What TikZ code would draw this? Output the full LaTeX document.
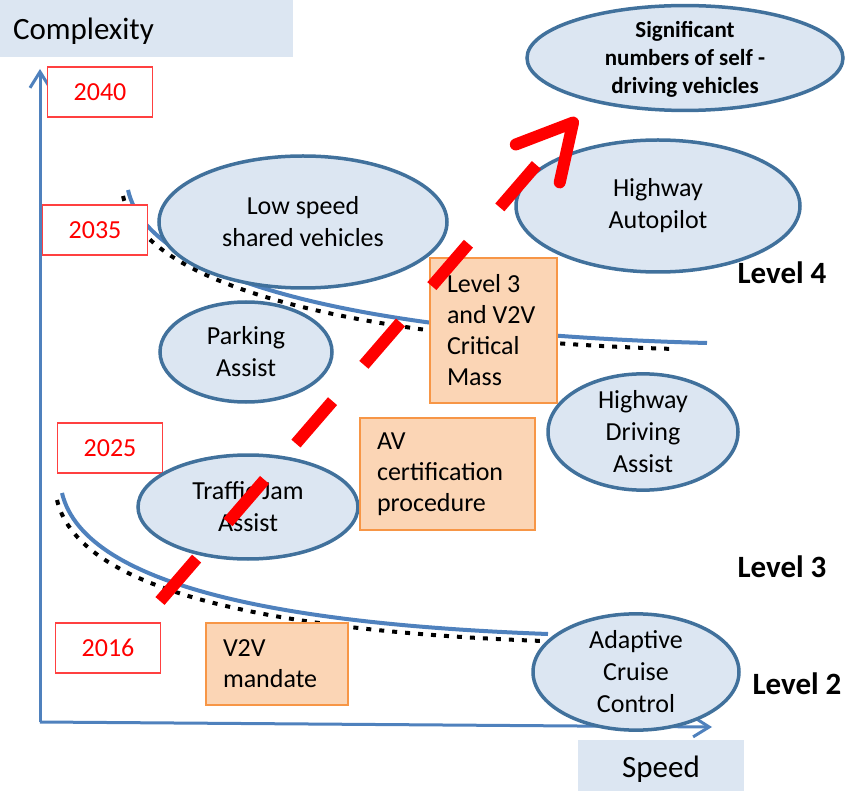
\documentclass[tikz,border=0pt]{standalone}
\usepackage{fontspec}
\setmainfont{Carlito}
\usepackage{tikz}
\usetikzlibrary{shapes.geometric, arrows.meta, positioning, calc}
\definecolor{ellfill}{HTML}{DCE6F2}
\definecolor{ellborder}{HTML}{41719C}
\definecolor{boxfill}{HTML}{FBD5B5}
\definecolor{boxborder}{HTML}{F79646}
\definecolor{axisblue}{HTML}{4F81BD}
\tikzset{
  axis/.style={draw=axisblue, line width=3pt, -{Straight Barb[length=16pt, width=20pt]}},
  axislabel/.style={rectangle, fill=ellfill, inner sep=0pt, text height=23pt, text depth=0pt,
                    font=\fontsize{31}{37}\selectfont},
  feature/.style={ellipse, draw=ellborder, line width=3.5pt, fill=ellfill, inner sep=0pt, align=center,
                  font=\fontsize{26}{32}\selectfont},
  goal/.style={feature, font=\bfseries\fontsize{23}{28}\selectfont},
  milestone/.style={rectangle, draw=boxborder, fill=boxfill, line width=1.5pt, align=flush left,
                    inner xsep=17pt, inner ysep=2pt, font=\fontsize{26}{31}\selectfont},
  yearbox/.style={rectangle, draw=red!75, fill=white, text=red, line width=1.2pt, minimum width=105pt,
                  minimum height=50pt, font=\fontsize{26}{31}\selectfont},
  levellabel/.style={font=\bfseries\fontsize{31}{36}\selectfont},
  boundary/.style={draw=axisblue, line width=4pt},
  boundaryshadow/.style={draw=black, line width=4pt, dash pattern=on 5pt off 8pt},
  trend/.style={draw=red, line width=12pt, dash pattern=on 56pt off 48pt,
                -{Straight Barb[length=54pt, width=58pt, round]}}
}

\begin{document}
\begin{tikzpicture}[x=1pt, y=-1pt]
\useasboundingbox (0,0) rectangle (846,791);

% Axes
\coordinate (origin) at (40,722);
\coordinate (ytip) at (40,69);
\coordinate (xtip) at (712,727);
\draw [axis] (origin) -- (ytip);
\draw [axis] (origin) -- (xtip);

\node (complexity) [axislabel, text width=267pt, inner xsep=13pt, align=left, minimum height=57pt] at (146.5,28.5) {Complexity};
\node (speed) [axislabel, minimum width=166pt, minimum height=51pt] at (661,765.5) {Speed};

% Level boundaries with their shadow
\draw [boundaryshadow, xshift=-5pt, yshift=-6pt] (128,190) .. controls (150,290) and (400,335) .. (680,343);
\draw [boundary] (128,190) .. controls (150,290) and (400,335) .. (707,343);
\draw [boundaryshadow, xshift=-5pt, yshift=-7pt] (62,493) .. controls (85,590) and (300,625) .. (548,634);
\draw [boundary] (62,493) .. controls (85,590) and (300,625) .. (548,634);

% Years
\node (y2040) [yearbox] at (100,92) {2040};
\node (y2035) [yearbox] at (95,230) {2035};
\node (y2025) [yearbox] at (110,448) {2025};
\node (y2016) [yearbox] at (108,648) {2016};

% Features
\node (selfdriving) [goal, minimum width=316pt, minimum height=98pt, text depth=2pt] at (685,58) {Significant\\numbers of self -\\driving vehicles};
\node (lowspeed) [feature, minimum width=288pt, minimum height=132pt] at (303,222) {Low speed\\shared vehicles};
\node (autopilot) [feature, minimum width=284pt, minimum height=132pt] at (658,206) {Highway\\Autopilot};
\node (parking) [feature, minimum width=172pt, minimum height=100pt] at (246,352) {Parking\\Assist};
\node (hwyassist) [feature, minimum width=190pt, minimum height=108pt] at (643,432) {Highway\\Driving\\Assist};
\node (trafficjam) [feature, minimum width=220pt, minimum height=104pt] at (248,507) {Traffic Jam\\Assist};
\node (acc) [feature, minimum width=206pt, minimum height=98pt] at (636,672) {Adaptive\\Cruise\\Control};

% Milestones
\node (critmass) [milestone, text width=93pt, minimum height=145pt] at (493.5,330.5) {Level 3\\and V2V\\Critical\\Mass};
\node (avcert) [milestone, text width=141pt, minimum height=112pt] at (447.5,474) {AV\\certification\\procedure};
\node (v2v) [milestone, text width=108pt, minimum height=82pt] at (277,664) {V2V\\mandate};

% Levels
\node (level4) [levellabel] at (782,273) {Level 4};
\node (level3) [levellabel] at (782,567) {Level 3};
\node (level2) [levellabel] at (797,684) {Level 2};

% Trend
\coordinate (trendstart) at (160,601);
\coordinate (trendtip) at (577,118);
\draw [trend] (trendstart) -- (trendtip);
\end{tikzpicture}
\end{document}
